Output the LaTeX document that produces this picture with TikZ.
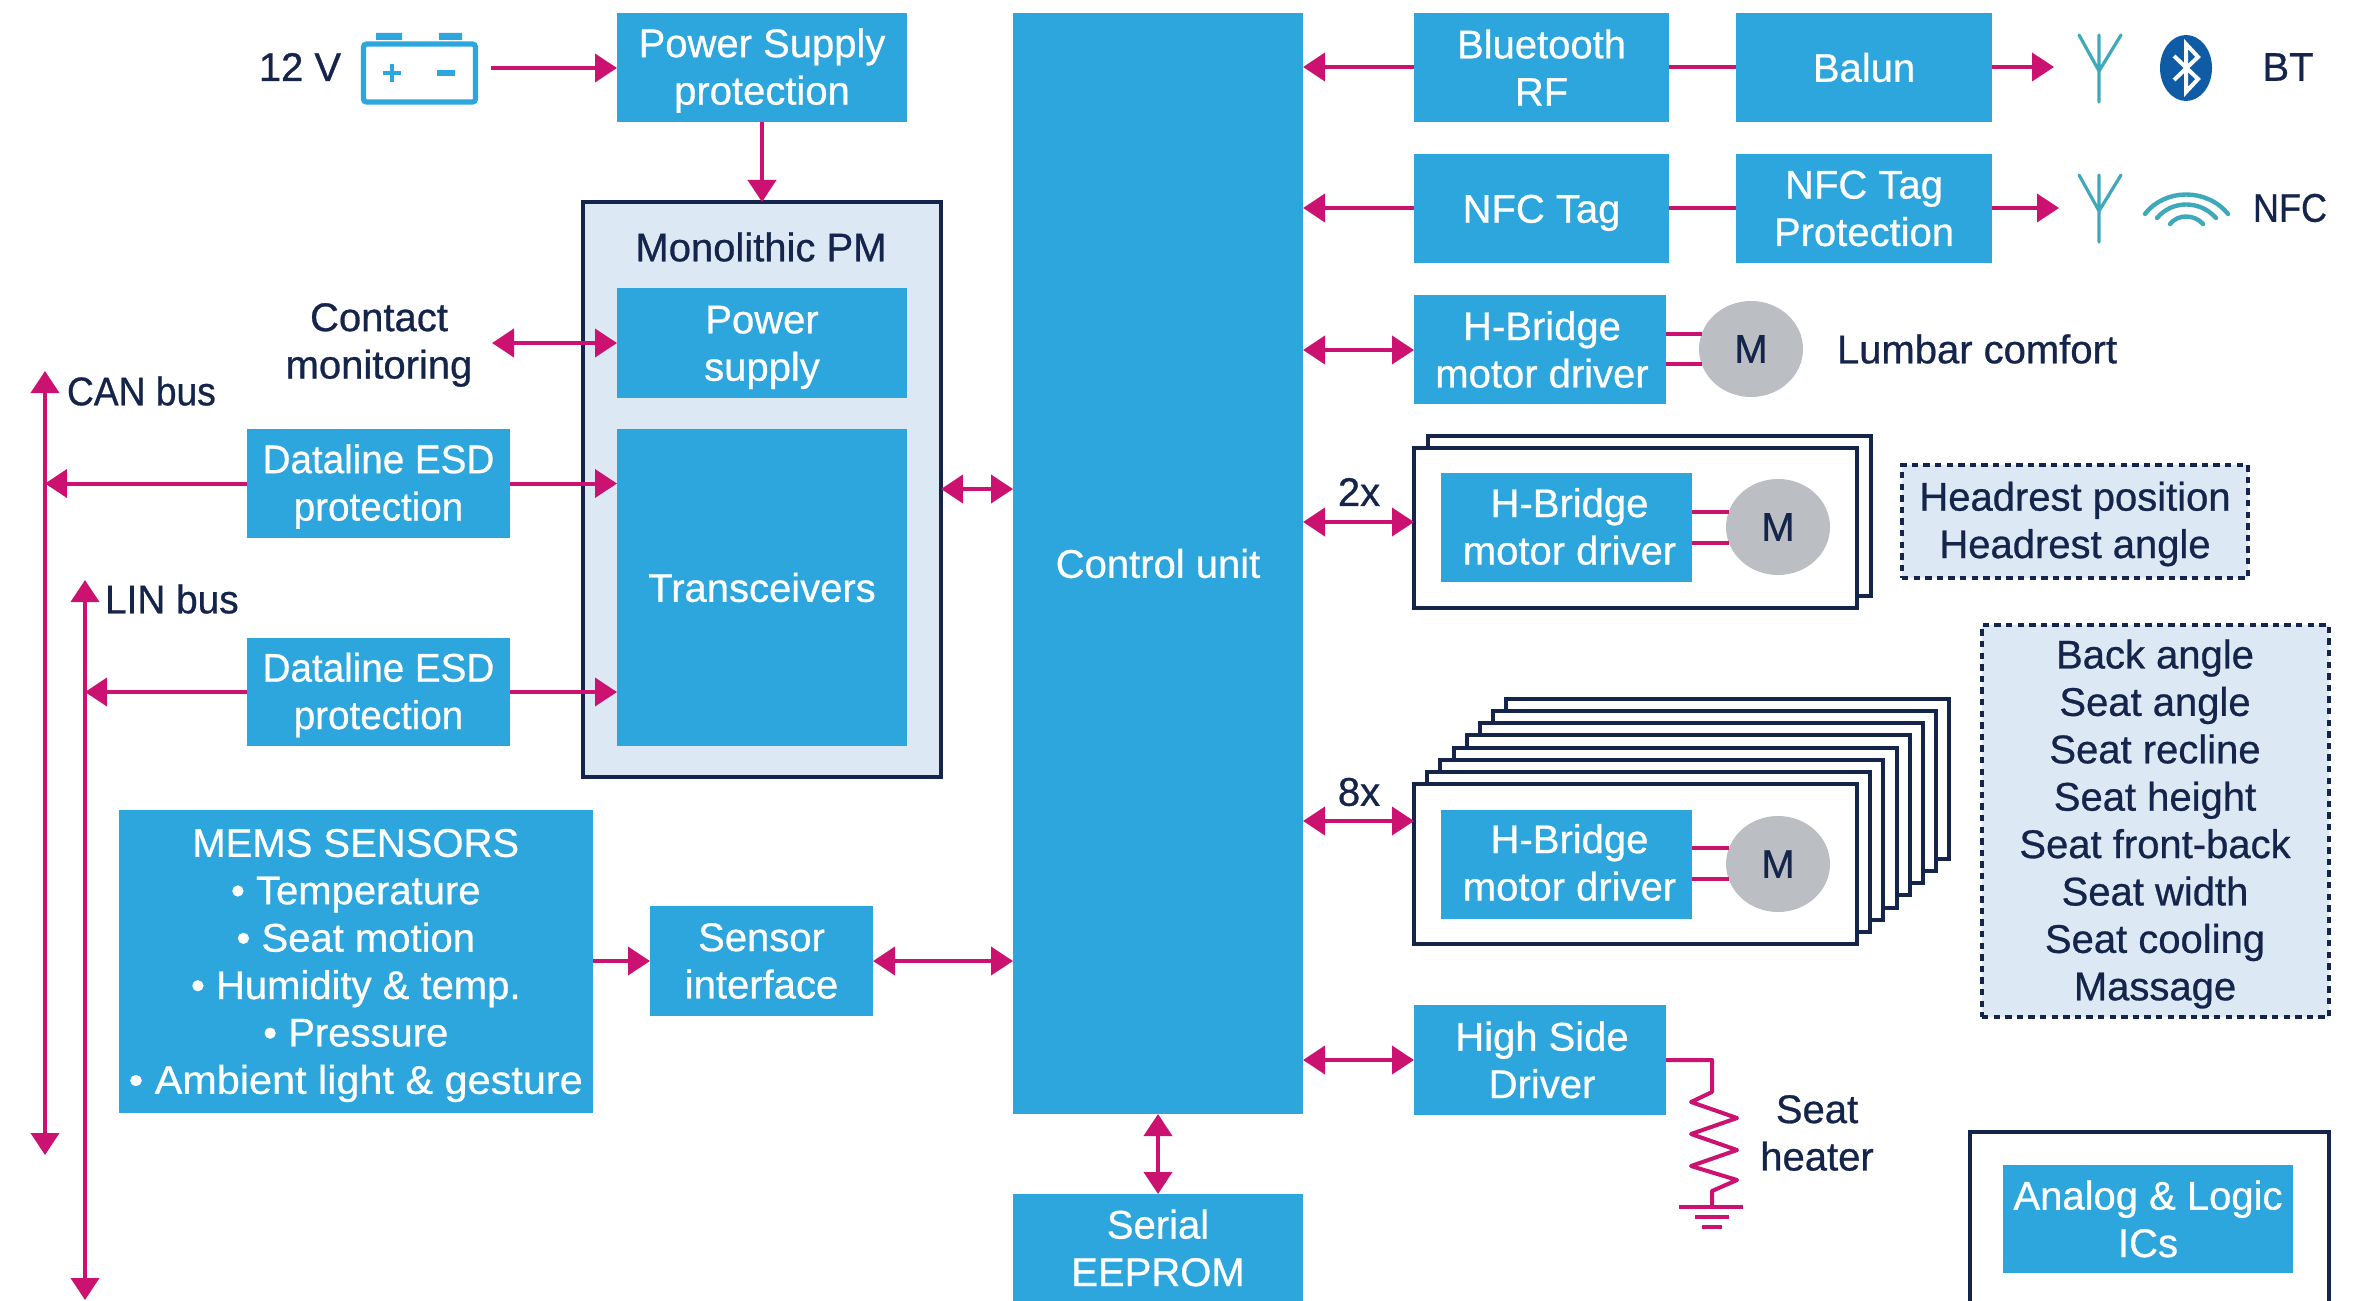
\documentclass[tikz,border=0pt]{standalone}
\usepackage{fontspec}
\setmainfont[FakeBold=0.7]{Liberation Sans}
\usetikzlibrary{arrows.meta,shapes.geometric,calc}
\definecolor{stblue}{HTML}{2CA6DC}
\definecolor{stlight}{HTML}{DCE9F5}
\definecolor{stnavy}{HTML}{14244A}
\definecolor{stmag}{HTML}{CB1270}
\definecolor{stgrey}{HTML}{BBBFC3}
\definecolor{stteal}{HTML}{3FA9BC}
\definecolor{stbt}{HTML}{0F5BA6}
\tikzset{
  lbl/.style={font=\fontsize{20}{23.7}\selectfont,align=center,inner sep=0pt,outer sep=0pt},
  blkbox/.style={fill=stblue,inner sep=0pt,outer sep=0pt},
  whitetxt/.style={lbl,text=white},
  navytxt/.style={lbl,text=stnavy},
  frm/.style={draw=stnavy,line width=2pt,fill=white,inner sep=0pt,outer sep=0pt},
  lightfrm/.style={draw=stnavy,line width=2pt,fill=stlight,inner sep=0pt,outer sep=0pt},
  dashfrm/.style={draw=stnavy,line width=2.4pt,dash pattern=on 3.2pt off 2.6pt,fill=stlight,inner sep=0pt,outer sep=0pt},
  motor/.style={ellipse,fill=stgrey,text=stnavy,inner sep=0pt,outer sep=0pt,minimum width=52pt,minimum height=48pt,font=\fontsize{20}{24}\selectfont},
  wire/.style={draw=stmag,line width=2pt},
  arr/.style={wire,-{Triangle[length=11pt,width=14pt]}},
  darr/.style={wire,{Triangle[length=11pt,width=14pt]}-{Triangle[length=11pt,width=14pt]}},
  teal/.style={draw=stteal,line width=1.6pt,line cap=round},
}
\newcommand\blk[7][]{\node[blkbox,minimum width={(#5-#3)*0.5pt},minimum height={(#6-#4)*0.5pt},label={[name=#2t,whitetxt,#1]center:{#7}}] (#2) at ({(#3+#5)/2},{(#4+#6)/2}) {};}
\newcommand\rct[6]{\node[#1,minimum width={(#5-#3)*0.5pt},minimum height={(#6-#4)*0.5pt}] (#2) at ({(#3+#5)/2},{(#4+#6)/2}) {};}
\newcommand\txt[4]{\node[navytxt] (#1) at (#2,#3) {#4};}
\begin{document}
\begin{tikzpicture}[x=0.5pt,y=-0.5pt]
\useasboundingbox (0,0) rectangle (2353,1300);
\clip (0,0) rectangle (2353,1300);
\fill[white] (0,0) rectangle (2353,1300);
% battery
\txt{v12}{300}{67}{12 V}
\node[draw=stblue,line width=2.6pt,rounded corners=1.5pt,minimum width=56pt,minimum height=29pt,inner sep=0pt,outer sep=0pt] (bat) at (419.5,73) {};
\fill[stblue] (376,33) rectangle (402,40) (439,33) rectangle (462,40);
\draw[stblue,line width=2pt] (383,73) -- (401,73) (392,64) -- (392,82);
\draw[stblue,line width=2.6pt] (437,73) -- (455,73);
% left blocks
\blk[yshift=-1.5pt]{psp}{617}{13}{907}{122}{Power Supply\\protection}
\rct{lightfrm}{pm}{583}{202}{941}{777}
\txt{pmt}{761}{247}{Monolithic PM}
\blk[yshift=-2.2pt]{pws}{617}{288}{907}{398}{Power\\supply}
\blk{trx}{617}{429}{907}{746}{Transceivers}
\blk[yshift=-1.5pt]{esd1}{247}{429}{510}{538}{\scalebox{0.965}[1]{Dataline ESD}\\\scalebox{0.965}[1]{protection}}
\blk[yshift=-1.5pt]{esd2}{247}{638}{510}{746}{\scalebox{0.965}[1]{Dataline ESD}\\\scalebox{0.965}[1]{protection}}
\txt{cm}{379}{345}{Contact\\monitoring}
\node[navytxt,anchor=west] (can) at (67,391) {\scalebox{0.93}[1]{CAN bus}};
\node[navytxt,anchor=west] (lin) at (105,599) {\scalebox{0.97}[1]{LIN bus}};
\blk[yshift=-2pt]{mems}{118.5}{810}{593}{1113}{MEMS SENSORS\\• Temperature\\• Seat motion\\• Humidity \& temp.\\• Pressure\\\scalebox{1.035}[1]{• Ambient light \& gesture}}
\blk{sens}{650}{906}{873}{1016}{Sensor\\interface}
\blk{ctrl}{1013}{13}{1303}{1114}{Control unit}
\blk{eep}{1013}{1194}{1303}{1320}{}
\node[whitetxt] (eept) at (1158,1248) {Serial\\EEPROM};
% right blocks
\blk{bt}{1414}{13}{1669}{122}{Bluetooth\\RF}
\blk{bal}{1736}{13}{1992}{122}{Balun}
\blk[yshift=-2.2pt]{nfc}{1414}{154}{1669}{263}{NFC Tag}
\blk{nfp}{1736}{154}{1992}{263}{NFC Tag\\Protection}
\blk[xshift=1pt]{hb1}{1414}{295}{1666}{404}{H-Bridge\\motor driver}
\node[motor] (m1) at (1751,349) {M};
\txt{lum}{1977}{349}{Lumbar comfort}
\node[navytxt] (btt) at (2288,67) {BT};
\node[navytxt] (nft) at (2290,208) {\scalebox{0.9}[1]{NFC}};
% 2x stack
\rct{frm}{s2b}{1428}{436}{1871}{596}
\rct{frm}{s2f}{1414}{448}{1857}{608}
\blk[xshift=1.5pt,yshift=0.5pt]{hb2}{1441}{473}{1692}{582}{H-Bridge\\motor driver}
\node[motor] (m2) at (1778,527) {M};
\txt{x2}{1359}{492}{2x}
\rct{dashfrm}{hr}{1902}{465}{2248}{578}
\node[navytxt] (hrt) at (2075,524) {Headrest position\\Headrest angle};
% 8x stack
\foreach \i in {7,6,...,0}{
  \pgfmathsetmacro\xa{1414+13.2*\i}
  \pgfmathsetmacro\xb{1857+13.2*\i}
  \pgfmathsetmacro\ya{784-12.15*\i}
  \pgfmathsetmacro\yb{944-12.15*\i}
  \rct{frm}{s8\i}{\xa}{\ya}{\xb}{\yb}
}
\blk[xshift=1.5pt,yshift=1pt]{hb8}{1441}{810}{1692}{919}{H-Bridge\\motor driver}
\node[motor] (m8) at (1778,864) {M};
\txt{x8}{1359}{792}{8x}
\rct{dashfrm}{seat}{1982}{625}{2329}{1017}
\node[navytxt] (seatt) at (2155,824) {Back angle\\Seat angle\\Seat recline\\Seat height\\Seat front-back\\Seat width\\Seat cooling\\Massage};
\blk[xshift=1pt]{hsd}{1414}{1005}{1666}{1115}{High Side\\Driver}
\txt{sh}{1817}{1133}{Seat\\heater}
\rct{frm}{alb}{1970}{1132}{2329}{1340}
\blk{al}{2003}{1165}{2293}{1273}{Analog \& Logic\\ICs}
% connectors
\coordinate (batout) at (491,68);
\draw[arr] (batout) -- (psp.west |- batout);
\draw[arr] (psp.south) -- (pm.north);
\coordinate (cmr) at (492,343);
\draw[darr] (cmr) -- (pws.west |- cmr);
\coordinate (cantop) at (45,371);
\coordinate (canbot) at (45,1155);
\draw[darr] (canbot) -- (cantop);
\coordinate (lintop) at (85,580);
\coordinate (linbot) at (85,1300);
\draw[darr] (linbot) -- (lintop);
\draw[arr] (esd1.west) -- (canbot |- esd1.west);
\draw[arr] (esd1.east) -- (trx.west |- esd1.east);
\draw[arr] (esd2.west) -- (linbot |- esd2.west);
\draw[arr] (esd2.east) -- (trx.west |- esd2.east);
\coordinate (pmc) at (941,489);
\draw[darr] (pmc) -- (ctrl.west |- pmc);
\coordinate (memsa) at (593,961);
\draw[arr] (memsa) -- (sens.west |- memsa);
\draw[darr] (sens.east) -- (ctrl.west |- sens.east);
\draw[darr] (ctrl.south -| eept) -- (eep.north -| eept);
\coordinate (bta) at (1414,67);
\draw[arr] (bta) -- (ctrl.east |- bta);
\draw[wire] (bt.east) -- (bal.west);
\coordinate (btend) at (2054,67);
\draw[arr] (bal.east |- btend) -- (btend);
\coordinate (nfa) at (1414,208);
\draw[arr] (nfa) -- (ctrl.east |- nfa);
\draw[wire] (nfc.east) -- (nfp.west);
\coordinate (nfend) at (2059,208);
\draw[arr] (nfp.east |- nfend) -- (nfend);
\coordinate (a1) at (1414,350);
\draw[darr] (ctrl.east |- a1) -- (a1);
\coordinate (a2) at (1414,522);
\draw[darr] (ctrl.east |- a2) -- (a2);
\coordinate (a8) at (1414,821);
\draw[darr] (ctrl.east |- a8) -- (a8);
\coordinate (ah) at (1414,1060);
\draw[darr] (ctrl.east |- ah) -- (ah);
\foreach \m/\h/\y in {m1/hb1/334,m1/hb1/364,m2/hb2/512,m2/hb2/543,m8/hb8/848,m8/hb8/879}{
  \coordinate (w) at (1700,\y);
  \draw[wire] (\h.east |- w) -- ($(\m.west |- w)+(3,0)$);
}
% heater
\coordinate (g0) at (1712,1207);
\draw[wire,line join=round] (hsd.east) -- (1712,1060) -- (1712,1092) -- (1691,1102) -- (1737,1118) -- (1691,1134) -- (1737,1150) -- (1691,1166) -- (1737,1180) -- (1712,1191) -- (g0);
\draw[wire] (1679,1207) -- (1743,1207) (1695,1217) -- (1729,1217) (1702,1227) -- (1722,1227);
% antennas
\foreach \y in {35,175}{
  \draw[teal] (2099,\y+67) -- (2099,\y) (2099,\y+36) -- (2079,\y) (2099,\y+36) -- (2121,\y);
}
% bluetooth icon
\node[ellipse,fill=stbt,minimum width=26pt,minimum height=33pt,inner sep=0pt] (bti) at (2186,68) {};
\draw[white,line width=2pt,line join=miter] (2174,56) -- (2198,79) -- (2186,92) -- (2186,44) -- (2198,57) -- (2174,80);
% nfc waves
\draw[stteal,line width=2.2pt,line cap=round] (2145,214) .. controls (2165,188) and (2207,188) .. (2228,214);
\draw[stteal,line width=2.2pt,line cap=round] (2157,218) .. controls (2172,200) and (2200,200) .. (2216,218);
\draw[stteal,line width=2.2pt,line cap=round] (2170,224) .. controls (2178,214) and (2194,214) .. (2203,224);
\end{tikzpicture}
\end{document}
